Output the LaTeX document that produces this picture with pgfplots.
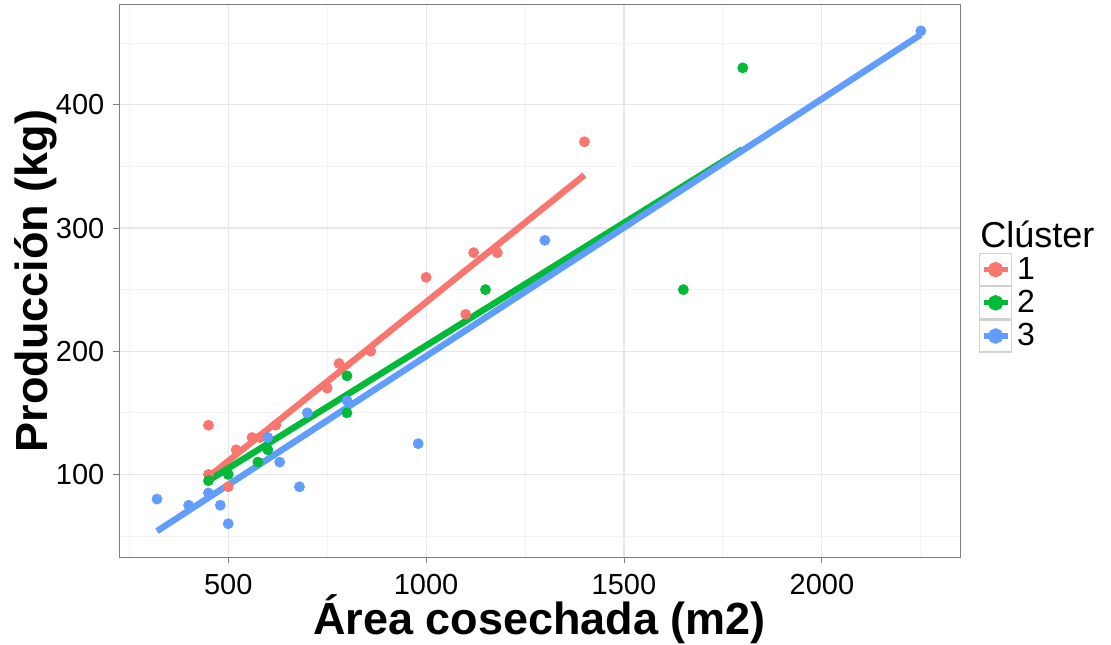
\documentclass[border=0pt]{standalone}
\usepackage{fontspec}
\setmainfont{Liberation Sans}
\usepackage{pgfplots}
\pgfplotsset{compat=1.18}
\definecolor{cA}{HTML}{F8766D}
\definecolor{cB}{HTML}{00BA38}
\definecolor{cC}{HTML}{619CFF}
\definecolor{gmaj}{HTML}{E6E6E6}
\definecolor{gmin}{HTML}{F3F3F3}
\begin{document}
\begin{tikzpicture}
\useasboundingbox (-59.7pt,-43.5pt) rectangle (495.8pt,278.5pt);
\begin{axis}[
  name=ax,
  at={(0pt,0pt)}, anchor=south west,
  scale only axis,
  width=420.3pt, height=276pt,
  xmin=225, xmax=2349, ymin=33, ymax=481,
  xtick={500,1000,1500,2000},
  ytick={100,200,300,400},
  minor xtick={250,750,1250,1750,2250},
  minor ytick={50,150,250,350,450},
  grid=both,
  major grid style={gmaj, line width=0.6pt},
  minor grid style={gmin, line width=0.5pt},
  minor tick length=0pt,
  major tick length=3pt,
  tick align=outside,
  xtick pos=left, ytick pos=left,
  tick style={black!50, line width=0.5pt},
  axis line style={black!50, line width=0.5pt},
  /pgf/number format/assume math mode=true,
  /pgf/number format/1000 sep={},
  ticklabel style={font=\fontsize{14.5}{14.5}\selectfont, text=black},
  xticklabel style={anchor=north, yshift=-2pt},
  yticklabel style={anchor=east, xshift=-1pt},
  xlabel={\textbf{Área cosechada (m2)}},
  ylabel={\textbf{Producción (kg)}},
  label style={font=\fontsize{22.5}{22.5}\selectfont},
  xlabel style={at={([yshift=-38.5pt]axis description cs:0.5,0)}, anchor=base},
  ylabel style={at={([xshift=-36pt]axis description cs:0,0.5)}, anchor=base},
  legend style={at={(1.0226,0.5507)}, anchor=north west, draw=none, fill=none,
    inner sep=0pt, outer sep=0pt, row sep=0pt,
    font=\fontsize{16}{16}\selectfont,
    nodes={inner ysep=0pt, inner xsep=2.5pt}},
  legend cell align=left,
  legend image code/.code={
    \draw[draw=black!18, fill=white, line width=0.6pt, solid] (0pt,-8pt) rectangle (16pt,8pt);
    \draw[line width=2.6pt] (2pt,0pt) -- (14pt,0pt);
    \fill (8pt,0pt) circle (2.2pt);
  },
]
% points
\addplot[only marks, mark=*, mark size=2.5pt, color=cA, forget plot] coordinates {
(450,140) (450,100) (500,90) (520,120) (560,130) (580,130) (620,140) (750,170)
(780,190) (860,200) (1000,260) (1100,230) (1120,280) (1180,280) (1400,370)};
\addplot[only marks, mark=*, mark size=2.5pt, color=cB, forget plot] coordinates {
(450,95) (500,100) (575,110) (600,120) (800,180) (800,150) (1150,250) (1650,250) (1800,430)};
\addplot[only marks, mark=*, mark size=2.5pt, color=cC, forget plot] coordinates {
(320,80) (400,75) (450,85) (480,75) (500,60) (600,130) (630,110) (680,90) (700,150)
(800,160) (980,125) (1300,290) (2250,460)};
% regression lines
\addplot[color=cA, line width=3.2pt] coordinates {(450,98) (1400,343)};
\addlegendentry{1}
\addplot[color=cB, line width=3.2pt] coordinates {(450,95) (1800,364)};
\addlegendentry{2}
\addplot[color=cC, line width=3.2pt] coordinates {(320,54) (2250,457)};
\addlegendentry{3}
\coordinate (ttl) at (axis description cs:1.0238,0.5616);
\end{axis}
\node[anchor=base west, inner sep=0pt, font=\fontsize{18}{18}\selectfont] at (ttl) {Clúster};
\end{tikzpicture}
\end{document}
